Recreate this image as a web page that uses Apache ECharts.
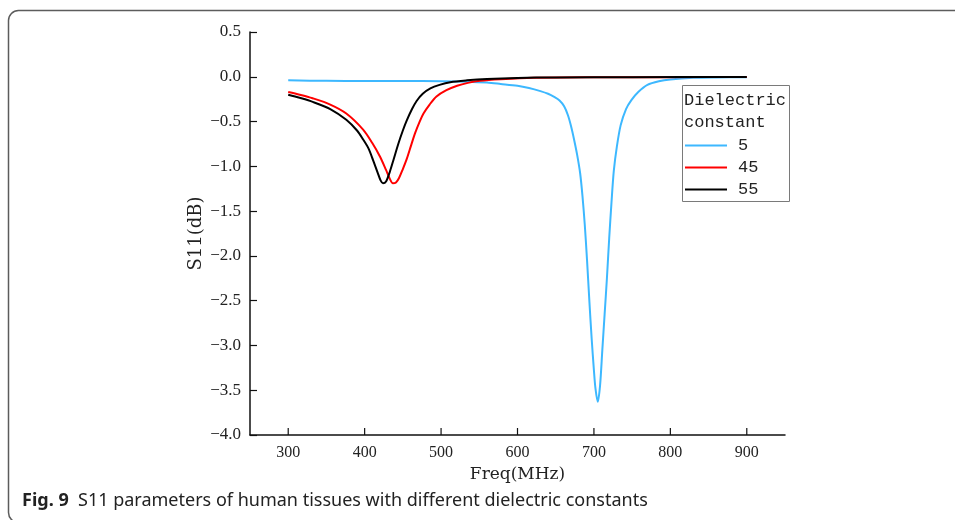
<!DOCTYPE html>
<html>
<head>
<meta charset="utf-8">
<script src="https://cdn.jsdelivr.net/npm/echarts@6/dist/echarts.min.js"></script>
<style>
  html, body { margin: 0; padding: 0; background: #fff; }
  #chart { width: 955px; height: 520px; }
</style>
</head>
<body>
<div id="chart"></div>
<script>
// Tick positions on the frequency axis (MHz)
const xTicks = [300, 400, 500, 600, 700, 800, 900];
// Legend entries: relative dielectric constant of the tissue model
const seriesNames = ['5', '45', '55'];

// S11 (dB) versus frequency (MHz), dielectric constant 5
const freq5 = [300, 350, 400, 450, 500, 534, 560, 578, 600, 615, 630, 640, 648, 655, 661, 666, 670, 674, 678, 682, 685, 688, 691, 694, 697, 700, 702, 705, 708, 711, 714, 717, 720, 723, 726, 730, 735, 742, 749, 758, 770, 785, 800, 830, 860, 900];
const s11_5 = [-0.04, -0.045, -0.048, -0.047, -0.05, -0.055, -0.065, -0.08, -0.10, -0.125, -0.16, -0.19, -0.225, -0.265, -0.33, -0.43, -0.55, -0.70, -0.87, -1.08, -1.33, -1.65, -2.05, -2.50, -2.92, -3.28, -3.48, -3.63, -3.45, -3.05, -2.65, -2.25, -1.80, -1.40, -1.05, -0.78, -0.54, -0.36, -0.26, -0.17, -0.09, -0.05, -0.03, -0.012, -0.007, -0.005];

// dielectric constant 45
const freq45 = [300, 315, 332, 355, 376, 398, 410, 420, 428, 433, 437, 441, 445, 450, 455, 461, 466, 472, 477, 485, 494, 507, 521, 535, 551, 578, 621, 700, 800, 900];
const s11_45 = [-0.17, -0.20, -0.24, -0.31, -0.41, -0.59, -0.74, -0.89, -1.04, -1.14, -1.19, -1.18, -1.13, -1.03, -0.92, -0.76, -0.63, -0.50, -0.41, -0.31, -0.22, -0.15, -0.10, -0.068, -0.045, -0.028, -0.012, -0.006, -0.004, -0.003];

// dielectric constant 55
const freq55 = [300, 315, 332, 355, 376, 390, 398, 405, 411, 417, 421, 424, 428, 433, 438, 444, 450, 455, 462, 468, 476, 486, 498, 512, 534, 560, 600, 650, 750, 900];
const s11_55 = [-0.20, -0.235, -0.28, -0.36, -0.48, -0.60, -0.70, -0.80, -0.93, -1.07, -1.16, -1.19, -1.17, -1.06, -0.92, -0.75, -0.60, -0.49, -0.36, -0.27, -0.19, -0.13, -0.09, -0.06, -0.04, -0.025, -0.013, -0.007, -0.004, -0.003];

const lineColors = ['#3db8ff', '#ff0000', '#000000'];
const Y_MIN = -4;
const Y_MAX = 0.5;

function pairs(xs, ys) {
  return xs.map((x, i) => [x, ys[i]]);
}

const serifFont = '"Liberation Serif", "DejaVu Serif", serif';
const nameFont = '"DejaVu Serif", "Liberation Serif", serif';
const monoFont = '"Liberation Mono", "DejaVu Sans Mono", monospace';
const captionFont = '"Noto Sans", "Open Sans", sans-serif';

const chart = echarts.init(document.getElementById('chart'), null, { renderer: 'canvas' });

// Inward tick marks on the frequency axis, placed through the axis scale
const xTickSeries = {
  type: 'custom',
  name: 'xTicks',
  coordinateSystem: 'cartesian2d',
  silent: true,
  z: 10,
  clip: false,
  encode: { x: 0, y: 1 },
  data: xTicks.map(v => [v, Y_MIN]),
  renderItem: (params, api) => {
    const p = api.coord([api.value(0), api.value(1)]);
    return {
      type: 'line',
      shape: { x1: p[0], y1: p[1], x2: p[0], y2: p[1] - 7 },
      style: { stroke: '#111', lineWidth: 1.2 }
    };
  }
};

chart.setOption({
  animation: false,
  backgroundColor: '#ffffff',
  grid: { left: 250, right: 170, top: 32, bottom: 85, containLabel: false },
  xAxis: {
    type: 'value',
    min: 250,
    max: 950,
    name: 'Freq(MHz)',
    nameLocation: 'middle',
    nameGap: 29,
    nameTextStyle: { fontFamily: nameFont, fontSize: 17, color: '#222' },
    axisLine: { show: true, onZero: false, lineStyle: { color: '#111', width: 1.5 } },
    axisTick: { show: false },
    axisLabel: { customValues: xTicks, margin: 10, fontFamily: serifFont, fontSize: 16, color: '#222' },
    splitLine: { show: false }
  },
  yAxis: {
    type: 'value',
    min: Y_MIN,
    max: Y_MAX,
    interval: 0.5,
    name: 'S11(dB)',
    nameLocation: 'middle',
    nameGap: 45,
    nameMoveOverlap: false,
    nameTextStyle: { fontFamily: nameFont, fontSize: 18, color: '#222' },
    axisLine: { show: true, onZero: false, lineStyle: { color: '#111', width: 1.5 } },
    axisTick: { show: true, inside: true, length: 7, lineStyle: { color: '#111', width: 1.2 } },
    axisLabel: {
      margin: 9,
      fontFamily: serifFont,
      fontSize: 17,
      color: '#222',
      formatter: v => (v < 0 ? '\u2212' : '') + Math.abs(v).toFixed(1)
    },
    splitLine: { show: false }
  },
  legend: {
    orient: 'vertical',
    left: 684,
    top: 137,
    padding: 0,
    itemWidth: 42,
    itemHeight: 14,
    itemGap: 5,
    data: seriesNames,
    itemStyle: { opacity: 0 },
    textStyle: { fontFamily: monoFont, fontSize: 17, color: '#222', padding: [0, 0, 0, 6] }
  },
  series: seriesNames.map((name, i) => ({
    name: name,
    type: 'line',
    data: pairs([freq5, freq45, freq55][i], [s11_5, s11_45, s11_55][i]),
    smooth: 0.3,
    symbol: 'none',
    z: 2 + i,
    lineStyle: { color: lineColors[i], width: 2 },
    itemStyle: { color: lineColors[i] }
  })).concat([xTickSeries]),
  graphic: [
    {
      type: 'rect',
      silent: true,
      shape: { x: 8.5, y: 10.5, width: 1000, height: 512, r: 10 },
      style: { fill: 'none', stroke: '#5c5c5c', lineWidth: 1.5 }
    },
    {
      type: 'rect',
      silent: true,
      shape: { x: 682.5, y: 85.5, width: 107, height: 116 },
      style: { fill: '#ffffff', stroke: '#7a7a7a', lineWidth: 1 },
      z: 1
    },
    {
      type: 'text',
      silent: true,
      left: 684,
      top: 89,
      z: 2,
      style: {
        text: 'Dielectric\nconstant',
        fontFamily: monoFont,
        fontSize: 17,
        lineHeight: 22.5,
        fill: '#222'
      }
    },
    {
      type: 'text',
      silent: true,
      left: 22,
      top: 492,
      style: {
        text: '{b|Fig. 9}  S11 parameters of human tissues with different dielectric constants',
        fontFamily: captionFont,
        fontSize: 18,
        fill: '#222',
        rich: {
          b: { fontFamily: captionFont, fontSize: 18, fontWeight: 'bold', fill: '#222' }
        }
      }
    }
  ]
});
</script>
</body>
</html>
